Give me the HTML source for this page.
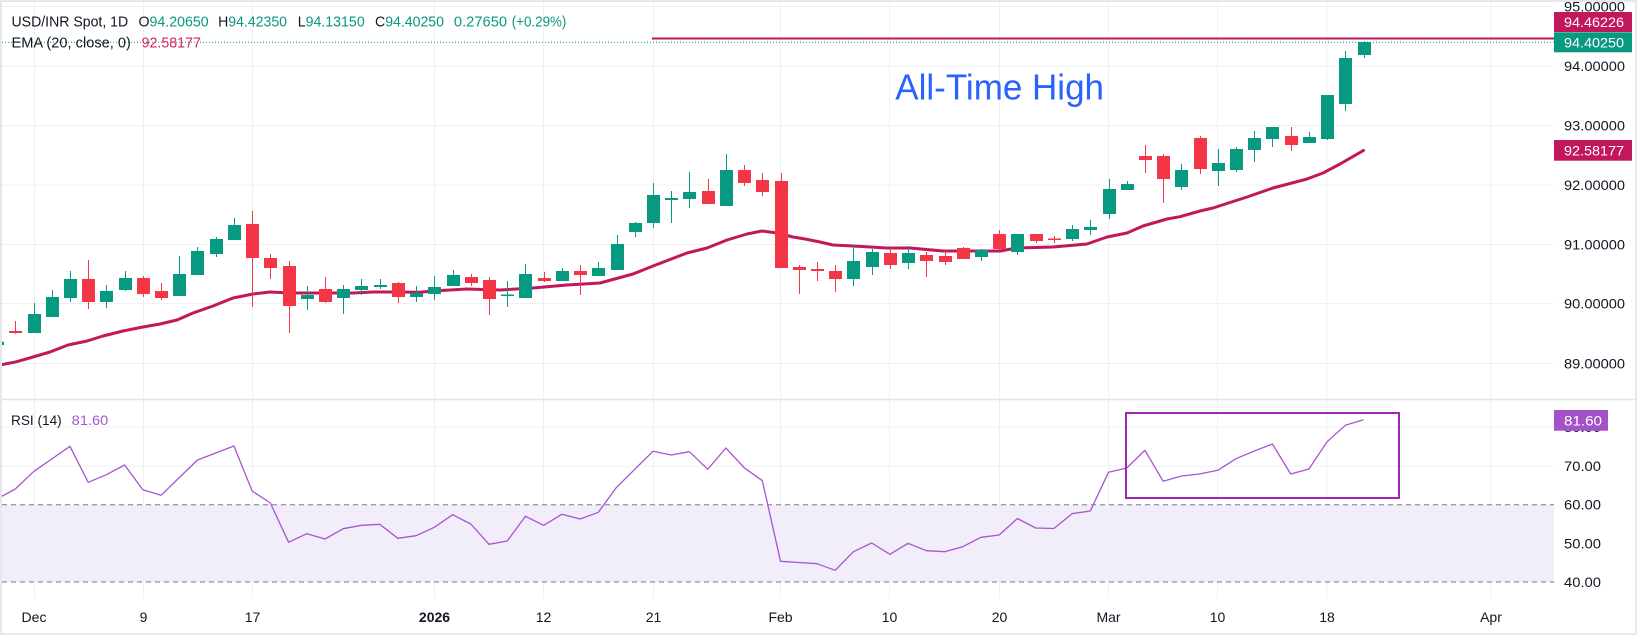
<!DOCTYPE html>
<html><head><meta charset="utf-8"><style>
html,body{margin:0;padding:0;background:#fff;}
svg{display:block;font-family:"Liberation Sans",sans-serif;}
</style></head><body>
<svg width="1637" height="635" viewBox="0 0 1637 635" xmlns="http://www.w3.org/2000/svg">
<defs>
<clipPath id="mainClip"><rect x="2" y="2" width="1552" height="397"/></clipPath>
<clipPath id="rsiClip"><rect x="2" y="400" width="1552" height="198"/></clipPath>
</defs>
<rect width="1637" height="635" fill="#e6e8ee"/>
<rect x="2" y="2" width="1633" height="631" fill="#ffffff"/>

<!-- vertical grid -->
<g stroke="#eef0f4" stroke-width="1">
<line x1="34.5" y1="2" x2="34.5" y2="598"/>
<line x1="143.5" y1="2" x2="143.5" y2="598"/>
<line x1="252.5" y1="2" x2="252.5" y2="598"/>
<line x1="434.5" y1="2" x2="434.5" y2="598"/>
<line x1="543.5" y1="2" x2="543.5" y2="598"/>
<line x1="653.5" y1="2" x2="653.5" y2="598"/>
<line x1="780.5" y1="2" x2="780.5" y2="598"/>
<line x1="889.5" y1="2" x2="889.5" y2="598"/>
<line x1="999.5" y1="2" x2="999.5" y2="598"/>
<line x1="1108.5" y1="2" x2="1108.5" y2="598"/>
<line x1="1217.5" y1="2" x2="1217.5" y2="598"/>
<line x1="1327" y1="2" x2="1327" y2="598"/>
<line x1="1491" y1="2" x2="1491" y2="598"/>
</g>
<!-- horizontal grid main -->
<g stroke="#eef0f4" stroke-width="1">
<line x1="2" y1="6.5" x2="1554" y2="6.5"/>
<line x1="2" y1="66" x2="1554" y2="66"/>
<line x1="2" y1="125.5" x2="1554" y2="125.5"/>
<line x1="2" y1="185" x2="1554" y2="185"/>
<line x1="2" y1="244.5" x2="1554" y2="244.5"/>
<line x1="2" y1="303.5" x2="1554" y2="303.5"/>
<line x1="2" y1="363.5" x2="1554" y2="363.5"/>
</g>

<!-- pane divider -->
<line x1="2" y1="399.5" x2="1635" y2="399.5" stroke="#e0e3eb" stroke-width="1.5"/>

<!-- RSI pane -->
<g clip-path="url(#rsiClip)">
<rect x="2" y="504.7" width="1552" height="77.3" fill="#f1edf9"/>
<g stroke="#eef0f4" stroke-width="1">
<line x1="2" y1="427" x2="1554" y2="427"/>
<line x1="2" y1="466" x2="1554" y2="466"/>
<line x1="2" y1="543.3" x2="1554" y2="543.3"/>
</g>
<line x1="2" y1="504.7" x2="1554" y2="504.7" stroke="#787b86" stroke-width="1" stroke-dasharray="5 4"/>
<line x1="2" y1="582" x2="1554" y2="582" stroke="#787b86" stroke-width="1" stroke-dasharray="5 4"/>
<polyline fill="none" stroke="#a855d0" stroke-width="1.3" stroke-linejoin="round" points="
-2.92,499 15.30,489 33.52,471.7 51.74,459 69.96,446.3 88.18,482.3 106.40,474.7 124.62,465 142.84,489.7 161.06,495.3
179.28,477.6 197.50,460 215.72,453 233.94,446 252.16,491 270.38,503 288.60,542.3 306.82,533.7 325.04,539 343.26,528.7
361.48,525.3 379.70,524.3 397.92,538.3 416.14,535.7 434.36,527.3 452.58,514.7 470.80,524 489.02,544.3 507.24,541 525.46,516.3
543.68,525.3 561.90,514.3 580.12,519 598.34,512.3 616.56,487.3 634.78,469.3 653.00,451.3 671.22,455 689.44,451.7 707.66,469.3
725.88,448 744.10,467.7 762.32,480.7 780.54,561.3 798.76,562.5 816.98,563.7 835.20,570.3 853.42,551.7 871.64,543 889.86,554.3
908.08,543.3 926.30,550.7 944.52,551.7 962.74,546.7 980.96,537.3 999.18,535 1017.40,518.5 1035.62,528 1053.84,528.5 1072.06,513.7
1090.28,511 1108.50,472.3 1126.72,468 1144.94,450.3 1163.16,481.3 1181.38,476 1199.60,474 1217.82,470.3 1236.04,458.7 1254.26,451
1272.48,444 1290.70,474 1308.92,469 1327.14,441.7 1345.36,425.3 1363.58,419.7"/>
<rect x="1126" y="413" width="273" height="85" fill="none" stroke="#9c27b0" stroke-width="2"/>
</g>

<!-- main pane -->
<g clip-path="url(#mainClip)">
<!-- EMA -->
<polyline fill="none" stroke="#c2185b" stroke-width="3" stroke-linejoin="round" stroke-linecap="round" points="
0,365 16.7,361.7 33,357 50,352 68,345 87,341 103,336 123,331 143,327 160,324 177,320 193,313 213,306 233,298 253,294 270,292
290,293 310,293 333,293 353,293 373,292 393,292 420,292.2 433,291 467,289 500,290 533,288 567,285 600,283 633,274 653,266
687,253 707,248 727,240 747,234 762,231 777,233 793,237 805,239 820,242 833,245 853,246 887,248 910,248 943,251 977,251
1000,251 1017,248 1053,247 1087,244 1107,237 1127,233 1143,226 1167,219 1180,216.7 1200,211 1213,208 1247,197 1273,188
1307,179 1323,173 1340,164 1363.5,150.4"/>

<!-- green candles -->
<g fill="#089981">
<rect x="-9" y="341.7" width="13" height="3.3"/>
<rect x="34" y="303" width="1" height="30"/><rect x="28" y="314" width="13" height="19"/>
<rect x="52" y="290" width="1" height="27"/><rect x="46" y="297" width="13" height="20"/>
<rect x="70" y="271" width="1" height="31"/><rect x="64" y="279" width="13" height="19"/>
<rect x="106" y="285" width="1" height="23"/><rect x="100" y="291" width="13" height="11"/>
<rect x="125" y="271" width="1" height="20"/><rect x="119" y="278" width="13" height="12"/>
<rect x="179" y="256" width="1" height="40"/><rect x="173" y="274" width="13" height="22"/>
<rect x="197" y="247" width="1" height="28"/><rect x="191" y="251" width="13" height="24"/>
<rect x="216" y="237" width="1" height="20"/><rect x="210" y="239" width="13" height="15"/>
<rect x="234" y="218" width="1" height="22"/><rect x="228" y="225" width="13" height="15"/>
<rect x="307" y="286" width="1" height="24"/><rect x="301" y="295" width="13" height="4"/>
<rect x="343" y="285" width="1" height="29"/><rect x="337" y="289" width="13" height="9"/>
<rect x="361" y="279" width="1" height="16"/><rect x="355" y="286" width="13" height="4"/>
<rect x="380" y="279" width="1" height="10"/><rect x="374" y="285" width="13" height="2"/>
<rect x="416" y="286" width="1" height="16"/><rect x="410" y="293" width="13" height="4"/>
<rect x="434" y="276" width="1" height="24"/><rect x="428" y="287" width="13" height="7"/>
<rect x="453" y="270" width="1" height="16"/><rect x="447" y="275" width="13" height="11"/>
<rect x="507" y="281" width="1" height="26"/><rect x="501" y="294.5" width="13" height="1.5"/>
<rect x="525" y="264" width="1" height="34"/><rect x="519" y="274" width="13" height="24"/>
<rect x="562" y="268" width="1" height="13"/><rect x="556" y="271" width="13" height="10"/>
<rect x="598" y="262" width="1" height="14"/><rect x="592" y="268" width="13" height="8"/>
<rect x="617" y="235" width="1" height="35"/><rect x="611" y="244" width="13" height="26"/>
<rect x="635" y="222" width="1" height="15"/><rect x="629" y="223" width="13" height="9"/>
<rect x="653" y="183" width="1" height="45"/><rect x="647" y="195" width="13" height="28"/>
<rect x="671" y="191" width="1" height="32"/><rect x="665" y="198" width="13" height="2"/>
<rect x="689" y="172" width="1" height="36"/><rect x="683" y="192" width="13" height="7"/>
<rect x="726" y="154" width="1" height="52"/><rect x="720" y="170" width="13" height="36"/>
<rect x="853" y="245" width="1" height="41"/><rect x="847" y="261" width="13" height="18"/>
<rect x="872" y="249" width="1" height="26"/><rect x="866" y="252" width="13" height="15"/>
<rect x="908" y="246" width="1" height="23"/><rect x="902" y="253" width="13" height="10"/>
<rect x="981" y="249" width="1" height="12"/><rect x="975" y="250" width="13" height="7"/>
<rect x="1017" y="234" width="1" height="21"/><rect x="1011" y="234" width="13" height="18"/>
<rect x="1072" y="225" width="1" height="16"/><rect x="1066" y="229" width="13" height="10"/>
<rect x="1090" y="220" width="1" height="15"/><rect x="1084" y="227" width="13" height="3"/>
<rect x="1109" y="179" width="1" height="40"/><rect x="1103" y="189" width="13" height="25"/>
<rect x="1127" y="181" width="1" height="9"/><rect x="1121" y="184" width="13" height="6"/>
<rect x="1181" y="164" width="1" height="26"/><rect x="1175" y="170" width="13" height="17"/>
<rect x="1218" y="149" width="1" height="37"/><rect x="1212" y="163" width="13" height="8"/>
<rect x="1236" y="147" width="1" height="25"/><rect x="1230" y="149" width="13" height="21"/>
<rect x="1254" y="131" width="1" height="31"/><rect x="1248" y="138" width="13" height="12"/>
<rect x="1272" y="127" width="1" height="20"/><rect x="1266" y="127" width="13" height="12"/>
<rect x="1309" y="132" width="1" height="11"/><rect x="1303" y="137" width="13" height="6"/>
<rect x="1327" y="95" width="1" height="45"/><rect x="1321" y="95" width="13" height="44"/>
<rect x="1345" y="51" width="1" height="60"/><rect x="1339" y="58" width="13" height="46"/>
<rect x="1364" y="41" width="1" height="17"/><rect x="1358" y="42" width="13" height="13"/>
</g>
<!-- red candles -->
<g fill="#f23645">
<rect x="15" y="321" width="1" height="12.7"/><rect x="9" y="331" width="13" height="2"/>
<rect x="88" y="260" width="1" height="49"/><rect x="82" y="279" width="13" height="23"/>
<rect x="143" y="276" width="1" height="21"/><rect x="137" y="278" width="13" height="16"/>
<rect x="161" y="283" width="1" height="17"/><rect x="155" y="291" width="13" height="7"/>
<rect x="252" y="211" width="1" height="96"/><rect x="246" y="224" width="13" height="34"/>
<rect x="270" y="254" width="1" height="25"/><rect x="264" y="258" width="13" height="10"/>
<rect x="289" y="261" width="1" height="72"/><rect x="283" y="266" width="13" height="40"/>
<rect x="325" y="277" width="1" height="26"/><rect x="319" y="289" width="13" height="13"/>
<rect x="398" y="282" width="1" height="21"/><rect x="392" y="283" width="13" height="14"/>
<rect x="471" y="274" width="1" height="12"/><rect x="465" y="277" width="13" height="6"/>
<rect x="489" y="277" width="1" height="38"/><rect x="483" y="280" width="13" height="19"/>
<rect x="544" y="272" width="1" height="10"/><rect x="538" y="278" width="13" height="3"/>
<rect x="580" y="265" width="1" height="30"/><rect x="574" y="271" width="13" height="4"/>
<rect x="708" y="179" width="1" height="25"/><rect x="702" y="191" width="13" height="13"/>
<rect x="744" y="165" width="1" height="21"/><rect x="738" y="170" width="13" height="13"/>
<rect x="762" y="173" width="1" height="23"/><rect x="756" y="180" width="13" height="12"/>
<rect x="781" y="173" width="1" height="95"/><rect x="775" y="181" width="13" height="87"/>
<rect x="799" y="265" width="1" height="29"/><rect x="793" y="267" width="13" height="3"/>
<rect x="817" y="262" width="1" height="19"/><rect x="811" y="269" width="13" height="2"/>
<rect x="835" y="265" width="1" height="27"/><rect x="829" y="271" width="13" height="8"/>
<rect x="890" y="248" width="1" height="21"/><rect x="884" y="253" width="13" height="12"/>
<rect x="926" y="252" width="1" height="25"/><rect x="920" y="255" width="13" height="6"/>
<rect x="945" y="250" width="1" height="15"/><rect x="939" y="256" width="13" height="6"/>
<rect x="963" y="247" width="1" height="12"/><rect x="957" y="248" width="13" height="11"/>
<rect x="999" y="230" width="1" height="20"/><rect x="993" y="234" width="13" height="15"/>
<rect x="1036" y="234" width="1" height="9"/><rect x="1030" y="234" width="13" height="7"/>
<rect x="1054" y="236" width="1" height="7"/><rect x="1048" y="238.5" width="13" height="1.5"/>
<rect x="1145" y="145" width="1" height="28"/><rect x="1139" y="156" width="13" height="4"/>
<rect x="1163" y="154" width="1" height="49"/><rect x="1157" y="156" width="13" height="23"/>
<rect x="1200" y="136" width="1" height="38"/><rect x="1194" y="138" width="13" height="31"/>
<rect x="1291" y="127" width="1" height="24"/><rect x="1285" y="136" width="13" height="9"/>
</g>

<!-- all-time-high line and last price dotted line -->
<line x1="2" y1="42.3" x2="1554" y2="42.3" stroke="#089981" stroke-width="1" stroke-dasharray="1 2"/>
<line x1="652" y1="38.5" x2="1554" y2="38.5" stroke="#c2185b" stroke-width="2"/>

<text x="895.3" y="99.3" font-size="36" fill="#2962ff" textLength="208.7" lengthAdjust="spacingAndGlyphs">All-Time High</text>
</g>

<!-- legend -->
<g font-size="14.5">
<text x="11.5" y="26.7" fill="#131722" textLength="116.7" lengthAdjust="spacingAndGlyphs">USD/INR Spot, 1D</text>
<text x="138.5" y="26.7" textLength="70.1" lengthAdjust="spacingAndGlyphs"><tspan fill="#131722">O</tspan><tspan fill="#089981">94.20650</tspan></text>
<text x="218.1" y="26.7" textLength="68.9" lengthAdjust="spacingAndGlyphs"><tspan fill="#131722">H</tspan><tspan fill="#089981">94.42350</tspan></text>
<text x="297.7" y="26.7" textLength="67" lengthAdjust="spacingAndGlyphs"><tspan fill="#131722">L</tspan><tspan fill="#089981">94.13150</tspan></text>
<text x="375" y="26.7" textLength="69" lengthAdjust="spacingAndGlyphs"><tspan fill="#131722">C</tspan><tspan fill="#089981">94.40250</tspan></text>
<text x="453.9" y="26.7" fill="#089981" textLength="53.2" lengthAdjust="spacingAndGlyphs">0.27650</text>
<text x="511.7" y="26.7" fill="#089981" textLength="54.7" lengthAdjust="spacingAndGlyphs">(+0.29%)</text>
<text x="11.5" y="47.5" fill="#131722" textLength="119.4" lengthAdjust="spacingAndGlyphs">EMA (20, close, 0)</text>
<text x="141.6" y="47.5" fill="#d8245f" textLength="59.3" lengthAdjust="spacingAndGlyphs">92.58177</text>
</g>
<g font-size="14">
<text x="11" y="425" fill="#131722" textLength="50.7" lengthAdjust="spacingAndGlyphs">RSI (14)</text>
<text x="71.7" y="425" fill="#a855d0" textLength="36.6" lengthAdjust="spacingAndGlyphs">81.60</text>
</g>

<!-- price axis -->
<g font-size="14" fill="#131722">
<text x="1564" y="11.5" textLength="61" lengthAdjust="spacingAndGlyphs">95.00000</text>
<text x="1564" y="71" textLength="61" lengthAdjust="spacingAndGlyphs">94.00000</text>
<text x="1564" y="130.5" textLength="61" lengthAdjust="spacingAndGlyphs">93.00000</text>
<text x="1564" y="190" textLength="61" lengthAdjust="spacingAndGlyphs">92.00000</text>
<text x="1564" y="249.5" textLength="61" lengthAdjust="spacingAndGlyphs">91.00000</text>
<text x="1564" y="308.5" textLength="61" lengthAdjust="spacingAndGlyphs">90.00000</text>
<text x="1564" y="368.5" textLength="61" lengthAdjust="spacingAndGlyphs">89.00000</text>
<text x="1564" y="432" textLength="37" lengthAdjust="spacingAndGlyphs">80.00</text>
<text x="1564" y="471" textLength="37" lengthAdjust="spacingAndGlyphs">70.00</text>
<text x="1564" y="509.7" textLength="37" lengthAdjust="spacingAndGlyphs">60.00</text>
<text x="1564" y="548.3" textLength="37" lengthAdjust="spacingAndGlyphs">50.00</text>
<text x="1564" y="587" textLength="37" lengthAdjust="spacingAndGlyphs">40.00</text>
</g>
<rect x="1554" y="12" width="78" height="20" fill="#c2185b"/>
<rect x="1554" y="32.3" width="78" height="20" fill="#089981"/>
<rect x="1554" y="140" width="78" height="20.7" fill="#c2185b"/>
<rect x="1554" y="410" width="54" height="20.7" fill="#a452c8"/>
<g font-size="14" fill="#ffffff">
<text x="1564" y="27" textLength="60" lengthAdjust="spacingAndGlyphs">94.46226</text>
<text x="1564" y="47.3" textLength="60" lengthAdjust="spacingAndGlyphs">94.40250</text>
<text x="1564" y="155.5" textLength="60" lengthAdjust="spacingAndGlyphs">92.58177</text>
<text x="1564" y="425.5" textLength="38" lengthAdjust="spacingAndGlyphs">81.60</text>
</g>

<!-- time axis -->
<g font-size="14" fill="#131722" text-anchor="middle">
<text x="34" y="622">Dec</text>
<text x="143.5" y="622">9</text>
<text x="252.5" y="622">17</text>
<text x="434.5" y="622" font-weight="bold">2026</text>
<text x="543.5" y="622">12</text>
<text x="653.5" y="622">21</text>
<text x="780.5" y="622">Feb</text>
<text x="889.5" y="622">10</text>
<text x="999.5" y="622">20</text>
<text x="1108.5" y="622">Mar</text>
<text x="1217.5" y="622">10</text>
<text x="1327" y="622">18</text>
<text x="1491" y="622">Apr</text>
</g>

<!-- outer border overlay -->
<rect x="1" y="1" width="1635" height="633" fill="none" stroke="#e6e8ee" stroke-width="2"/>
</svg>
</body></html>
